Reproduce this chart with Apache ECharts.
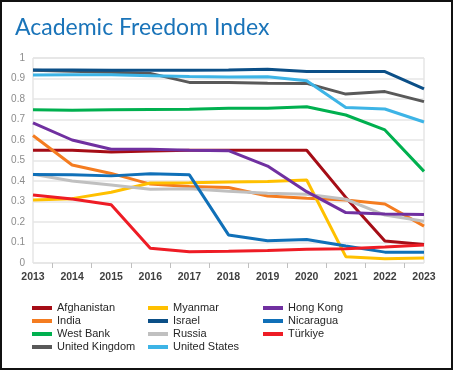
<!DOCTYPE html>
<html><head><meta charset="utf-8">
<script src="https://cdn.jsdelivr.net/npm/echarts@6/dist/echarts.min.js"></script>
<style>html,body{margin:0;padding:0;background:#fff}#c{width:453px;height:370px}</style>
</head><body><div id="c"></div>
<script>
const years = ['2013','2014','2015','2016','2017','2018','2019','2020','2021','2022','2023'];
const yTicks = [0, 0.1, 0.2, 0.3, 0.4, 0.5, 0.6, 0.7, 0.8, 0.9, 1];
const afghanistan = [0.55, 0.55, 0.542, 0.546, 0.55, 0.55, 0.55, 0.55, 0.32, 0.107, 0.09];
const myanmar     = [0.307, 0.314, 0.345, 0.39, 0.392, 0.395, 0.398, 0.405, 0.031, 0.021, 0.024];
const hongKong    = [0.684, 0.60, 0.555, 0.555, 0.55, 0.548, 0.473, 0.348, 0.246, 0.239, 0.236];
const india       = [0.622, 0.478, 0.437, 0.385, 0.373, 0.368, 0.327, 0.316, 0.307, 0.288, 0.18];
const israel      = [0.941, 0.941, 0.94, 0.94, 0.94, 0.942, 0.945, 0.934, 0.934, 0.934, 0.849];
const nicaragua   = [0.432, 0.43, 0.425, 0.435, 0.43, 0.137, 0.109, 0.115, 0.083, 0.053, 0.052];
const westBank    = [0.747, 0.745, 0.748, 0.749, 0.75, 0.755, 0.755, 0.762, 0.722, 0.649, 0.447];
const russia      = [0.433, 0.40, 0.38, 0.36, 0.362, 0.35, 0.34, 0.335, 0.311, 0.234, 0.204];
const turkiye     = [0.332, 0.312, 0.284, 0.072, 0.055, 0.057, 0.061, 0.067, 0.07, 0.078, 0.088];
const unitedKingdom = [0.94, 0.935, 0.93, 0.925, 0.881, 0.881, 0.877, 0.876, 0.824, 0.836, 0.787];
const unitedStates  = [0.917, 0.918, 0.918, 0.914, 0.91, 0.907, 0.909, 0.889, 0.759, 0.751, 0.688];

const seriesDefs = [
  ['Afghanistan', afghanistan, '#a50d16'],
  ['India', india, '#f47c20'],
  ['West Bank', westBank, '#00b04f'],
  ['United Kingdom', unitedKingdom, '#595959'],
  ['Myanmar', myanmar, '#ffc000'],
  ['Israel', israel, '#0b4f87'],
  ['Russia', russia, '#c0c0c0'],
  ['United States', unitedStates, '#3db4e6'],
  ['Hong Kong', hongKong, '#7030a0'],
  ['Nicaragua', nicaragua, '#1070b8'],
  ['Türkiye', turkiye, '#ee1c25']
];
const legendCols = [
  ['Afghanistan','India','West Bank','United Kingdom'],
  ['Myanmar','Israel','Russia','United States'],
  ['Hong Kong','Nicaragua','Türkiye']
];
const legendLeft = [32, 148, 263];

const tickCats = [];
years.forEach((y, i) => { tickCats.push(y); if (i < years.length - 1) tickCats.push(y + '.5'); });

const chart = echarts.init(document.getElementById('c'), null, {renderer: 'canvas'});
chart.setOption({
  animation: false,
  backgroundColor: '#fff',
  title: {
    text: 'Academic Freedom Index', left: 10, top: 11,
    textStyle: {fontFamily: 'Lato', fontWeight: 'normal', fontSize: 23, color: '#1a74b9'}
  },
  graphic: [{
    type: 'rect', shape: {x: 1, y: 1, width: 451, height: 368},
    style: {fill: 'none', stroke: '#111', lineWidth: 2}, silent: true
  }],
  legend: legendCols.map((col, i) => ({
    data: col, orient: 'vertical', left: legendLeft[i], top: 301.5, padding: 0,
    itemWidth: 20, itemHeight: 4, itemGap: 0, icon: 'rect',
    textStyle: {fontFamily: 'Liberation Sans', fontSize: 11, color: '#262626', lineHeight: 13}
  })),
  grid: {left: 33, right: 29, top: 58, bottom: 107, show: true, borderColor: '#d9d9d9', borderWidth: 1},
  xAxis: [{
    type: 'category', data: years, boundaryGap: false,
    axisLine: {show: false}, axisTick: {show: false},
    axisLabel: {margin: 9, fontFamily: 'Liberation Sans', fontSize: 10.5, fontWeight: 'bold', color: '#404040'}
  }, {
    type: 'category', data: tickCats, boundaryGap: false, position: 'bottom',
    axisLine: {show: false}, axisLabel: {show: false}, splitLine: {show: false},
    axisTick: {show: true, length: 5, inside: false, lineStyle: {color: '#bfbfbf'}, interval: (i) => i % 2 === 1}
  }],
  yAxis: {
    type: 'value', min: yTicks[0], max: yTicks[yTicks.length - 1], interval: 0.1,
    axisLine: {show: false}, axisTick: {show: false},
    axisLabel: {margin: 8, fontFamily: 'Liberation Sans', fontSize: 10, color: '#8c8c8c',
      formatter: v => { const t = yTicks.find(x => Math.abs(x - v) < 1e-6); return String(t === undefined ? v : t); }},
    splitLine: {lineStyle: {color: '#e6e6e6', width: 1.5}}
  },
  series: seriesDefs.map(([name, data, color]) => ({
    name, type: 'line', data, xAxisIndex: 0, showSymbol: false, symbol: 'none',
    lineStyle: {width: 3, color}, itemStyle: {color}
  }))
});
</script></body></html>
